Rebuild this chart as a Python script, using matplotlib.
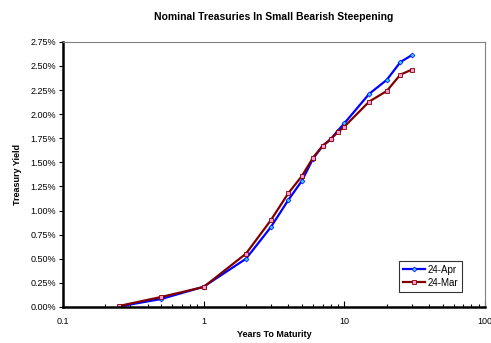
import matplotlib
matplotlib.use('Agg')
import matplotlib.pyplot as plt
from matplotlib.ticker import FuncFormatter, FixedLocator, LogLocator, NullFormatter

plt.rcParams['font.family'] = ['Liberation Sans', 'DejaVu Sans']

maturity = [0.25, 0.5, 1, 2, 3, 4, 5, 6, 7, 8, 9, 10, 15, 20, 25, 30]
apr = [0.005, 0.083, 0.21, 0.50, 0.827, 1.11, 1.31, 1.54, 1.67, 1.74, 1.83, 1.905, 2.21, 2.355, 2.54, 2.61]
mar = [0.01, 0.104, 0.207, 0.553, 0.899, 1.18, 1.36, 1.55, 1.67, 1.74, 1.815, 1.87, 2.13, 2.24, 2.41, 2.46]

fig = plt.figure(figsize=(4.91, 3.43), dpi=100)
ax = fig.add_axes([0.128, 0.105, 0.86, 0.773])

ax.plot(maturity, apr, color='#0000ff', lw=1.6, marker='D', ms=2.5,
        mfc='#33ccff', mec='#0000ff', mew=0.5, label='24-Apr')
ax.plot(maturity, mar, color='#800000', lw=1.6, marker='s', ms=3,
        mfc='#ff99cc', mec='#800000', mew=0.6, label='24-Mar')

ax.set_xscale('log')
ax.set_xlim(0.1, 100)
ax.set_ylim(0, 2.75)
ax.yaxis.set_major_locator(FixedLocator([i * 0.25 for i in range(12)]))
ax.yaxis.set_major_formatter(FuncFormatter(lambda v, p: '%.2f%%' % v))
ax.xaxis.set_major_locator(FixedLocator([0.1, 1, 10, 100]))
ax.xaxis.set_major_formatter(FuncFormatter(lambda v, p: '%g' % v))
ax.xaxis.set_minor_locator(LogLocator(base=10, subs=range(2, 10)))
ax.xaxis.set_minor_formatter(NullFormatter())

ax.tick_params(axis='y', direction='out', length=3, width=0.8, labelsize=6.5, pad=2)
ax.tick_params(axis='x', which='major', direction='in', length=4, width=0.8, labelsize=6.5, pad=7)
ax.tick_params(axis='x', which='minor', direction='in', length=2.5, width=0.8)

ax.spines['left'].set_linewidth(1.8)
ax.spines['bottom'].set_linewidth(1.8)
ax.spines['top'].set_color('#808080')
ax.spines['right'].set_color('#808080')

ax.set_title('Nominal Treasuries In Small Bearish Steepening', fontsize=7.5,
             fontweight='bold', pad=16)
ax.set_xlabel('Years To Maturity', fontsize=6.5, fontweight='bold', labelpad=3)
ax.set_ylabel('Treasury Yield', fontsize=6.5, fontweight='bold', labelpad=6)

leg = ax.legend(loc='lower right', bbox_to_anchor=(0.957, 0.04), fontsize=7,
                frameon=True, fancybox=False, edgecolor='black',
                handlelength=2.2, handletextpad=0.3, borderpad=0.4, labelspacing=0.3)
leg.get_frame().set_linewidth(0.8)

fig.savefig('out.png', dpi=100)
